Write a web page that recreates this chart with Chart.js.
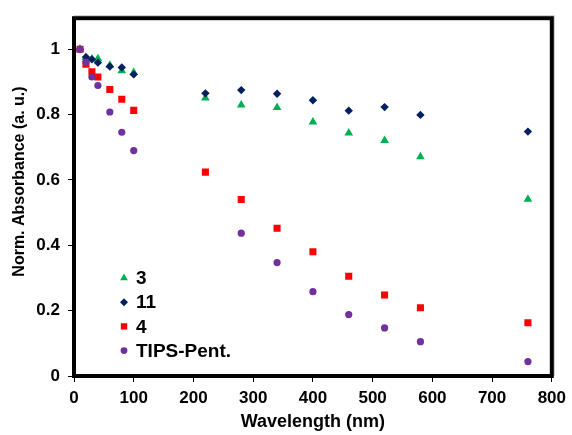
<!DOCTYPE html>
<html><head><meta charset="utf-8">
<script src="https://cdn.jsdelivr.net/npm/chart.js@4/dist/chart.umd.min.js"></script>
<style>html,body{margin:0;padding:0;background:#fff}canvas{display:block}</style>
</head><body>
<canvas id="c" width="572" height="435"></canvas>
<script>
// ---- data ----
const seriesNames = ['3', '11', '4', 'TIPS-Pent.'];
const wl3 = [10, 20, 30, 40, 60, 80, 100, 220, 280, 340, 400, 460, 520, 580, 760];
const abs3 = [1.0, 0.975, 0.970, 0.971, 0.951, 0.934, 0.929, 0.851, 0.829, 0.822, 0.777, 0.744, 0.721, 0.671, 0.541];
const wl11 = [10, 20, 30, 40, 60, 80, 100, 220, 280, 340, 400, 460, 520, 580, 760];
const abs11 = [1.0, 0.976, 0.969, 0.959, 0.947, 0.944, 0.923, 0.865, 0.875, 0.864, 0.844, 0.812, 0.823, 0.799, 0.748];
const wl4 = [10, 20, 30, 40, 60, 80, 100, 220, 280, 340, 400, 460, 520, 580, 760];
const abs4 = [1.0, 0.954, 0.931, 0.915, 0.877, 0.847, 0.813, 0.624, 0.540, 0.452, 0.380, 0.305, 0.248, 0.209, 0.163];
const wlTips = [10, 20, 30, 40, 60, 80, 100, 280, 340, 400, 460, 520, 580, 760];
const absTips = [1.0, 0.961, 0.915, 0.889, 0.808, 0.746, 0.690, 0.437, 0.347, 0.258, 0.188, 0.147, 0.105, 0.044];
const xTickValues = [0, 100, 200, 300, 400, 500, 600, 700, 800];
const yTickValues = [0, 0.2, 0.4, 0.6, 0.8, 1];
const xTitle = 'Wavelength (nm)';
const yTitle = 'Norm. Absorbance (a. u.)';

const toPts = (xs, ys) => xs.map((x, i) => ({x: x, y: ys[i]}));

const styles = [
  {color: '#00B050', pointStyle: 'triangle', r: 5, lr: 4.5, order: 4},
  {color: '#002060', pointStyle: 'rectRot', r: 4.2, lr: 4, order: 3},
  {color: '#FF0000', pointStyle: 'rect', r: 5, lr: 4.5, order: 2},
  {color: '#7030A0', pointStyle: 'circle', r: 3.6, lr: 3.4, order: 1}
];
const seriesData = [toPts(wl3, abs3), toPts(wl11, abs11), toPts(wl4, abs4), toPts(wlTips, absTips)];

const datasets = seriesNames.map((n, i) => ({
  label: n,
  data: seriesData[i],
  showLine: false,
  pointStyle: styles[i].pointStyle,
  pointRadius: styles[i].r,
  pointHoverRadius: styles[i].r,
  backgroundColor: styles[i].color,
  borderColor: styles[i].color,
  pointBorderWidth: 0,
  order: styles[i].order
}));

const framePlugin = {
  id: 'frame',
  beforeDatasetsDraw(chart) {
    const {ctx, chartArea: a} = chart;
    ctx.save();
    ctx.strokeStyle = '#c8c8c8';
    ctx.lineWidth = 1;
    ctx.beginPath();
    ctx.moveTo(a.left, a.top - 2.5);
    ctx.lineTo(a.right + 2.5, a.top - 2.5);
    ctx.lineTo(a.right + 2.5, a.bottom);
    ctx.stroke();
    ctx.strokeStyle = '#000';
    ctx.lineWidth = 4;
    ctx.strokeRect(a.left, a.top, a.right - a.left, a.bottom - a.top);
    ctx.restore();
  }
};

const legendPlugin = {
  id: 'innerLegend',
  afterDatasetsDraw(chart) {
    const {ctx} = chart;
    const x0 = 124, y0 = 278, dy = 24.2;
    ctx.save();
    ctx.font = 'bold 19px "Liberation Sans", Arial, sans-serif';
    ctx.textBaseline = 'middle';
    ctx.textAlign = 'left';
    seriesNames.forEach((n, i) => {
      const y = y0 + i * dy;
      ctx.fillStyle = styles[i].color;
      ctx.strokeStyle = styles[i].color;
      ctx.lineWidth = 0;
      Chart.helpers.drawPoint(ctx, {pointStyle: styles[i].pointStyle, radius: styles[i].lr, rotation: 0, borderWidth: 0}, x0, y);
      ctx.fillStyle = '#000';
      ctx.fillText(n, 136, y + 1);
    });
    ctx.restore();
  }
};

const tickFont = {family: '"Liberation Sans", Arial, sans-serif', size: 17, weight: 'bold'};

new Chart(document.getElementById('c'), {
  type: 'scatter',
  data: {datasets: datasets},
  options: {
    responsive: false,
    animation: false,
    devicePixelRatio: 1,
    layout: {padding: {top: 12, right: 18, left: 0, bottom: 0}},
    plugins: {legend: {display: false}, tooltip: {enabled: false}},
    scales: {
      x: {
        type: 'linear', min: 0, max: 800,
        afterBuildTicks(s) { s.ticks = xTickValues.map(v => ({value: v})); },
        afterFit(s) { s.height = 59; },
        ticks: {color: '#000', font: tickFont, padding: 6, maxRotation: 0, callback: v => String(v)},
        grid: {drawOnChartArea: false, drawTicks: true, tickLength: 6, color: '#000', lineWidth: 1},
        border: {display: false},
        title: {display: true, text: xTitle, color: '#000', padding: {top: 0, bottom: 2},
          font: {family: '"Liberation Sans", Arial, sans-serif', size: 18, weight: 'bold'}}
      },
      y: {
        type: 'linear', min: 0, max: 1.095,
        afterBuildTicks(s) { s.ticks = yTickValues.map(v => ({value: v})); },
        afterFit(s) { s.width = 74; },
        ticks: {color: '#000', font: tickFont, padding: 8, callback: v => String(Math.round(v * 10) / 10)},
        grid: {drawOnChartArea: false, drawTicks: true, tickLength: 6, color: '#000', lineWidth: 1},
        border: {display: false},
        title: {display: true, text: '       ' + yTitle, color: '#000', padding: {top: 10, bottom: 0},
          font: {family: '"Liberation Sans", Arial, sans-serif', size: 16, weight: 'bold'}}
      }
    }
  },
  plugins: [framePlugin, legendPlugin]
});
</script>
</body></html>
